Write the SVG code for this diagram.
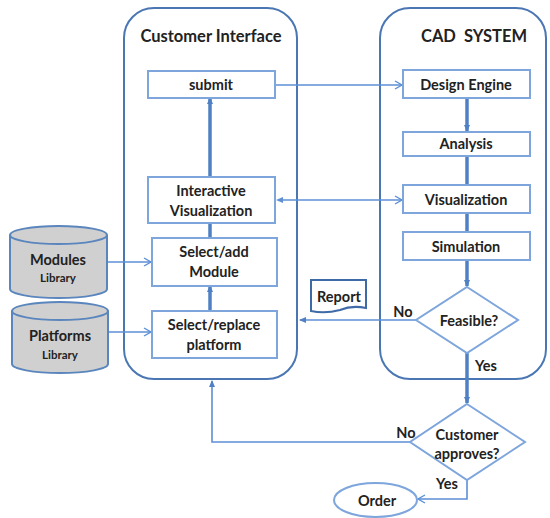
<svg xmlns="http://www.w3.org/2000/svg" width="550" height="518" viewBox="0 0 550 518">
<style>
text{font-family:Lato,"Liberation Sans",sans-serif;font-weight:bold;fill:#222;text-anchor:middle}
.t{font-size:14.5px}
.h{font-size:16.5px;white-space:pre}
.s{font-size:11.5px}
.box{fill:#fff;stroke:#7ea6dc;stroke-width:2}
.cont{fill:none;stroke:#4a77b4;stroke-width:2}
.ln{fill:none;stroke:#5c8fd6;stroke-width:1.6}
.thk{fill:none;stroke:#4f80c4;stroke-width:3.5}
.cyl{fill:#d0d0d0;stroke:#5a86bd;stroke-width:2}
</style>
<defs>
<marker id="open" markerWidth="10" markerHeight="10" refX="8" refY="5" orient="auto" markerUnits="userSpaceOnUse">
<path d="M1,1 L8,5 L1,9" fill="none" stroke="#5c8fd6" stroke-width="1.4"/>
</marker>
<marker id="fill" markerWidth="8" markerHeight="8" refX="6" refY="4" orient="auto" markerUnits="userSpaceOnUse">
<path d="M0,1 L7,4 L0,7 Z" fill="#4f80c4"/>
</marker>
</defs>

<g id="customer-interface">
<rect class="cont" x="124" y="8" width="173" height="371" rx="30"/>
<text class="h" x="211" y="42">Customer Interface</text>
</g>
<g id="cad-system">
<rect class="cont" x="380" y="8" width="166" height="371" rx="30"/>
<text class="h" x="474" y="42" xml:space="preserve">CAD  SYSTEM</text>
</g>

<g id="connectors">
<path class="thk" d="M210,238 V223 M210,177 V98" marker-end="url(#fill)"/>
<path class="thk" d="M210,311 V286" marker-end="url(#fill)"/>
<path class="ln" d="M275,85 H402" marker-end="url(#open)"/>
<path class="ln" d="M282,200 H402" marker-end="url(#open)"/>
<path d="M276,200 L283,197 L283,203 Z" fill="#5c8fd6"/>
<path class="ln" d="M107,262 H151" marker-end="url(#open)"/>
<path class="ln" d="M108,332 H151" marker-end="url(#open)"/>
<path class="thk" d="M467,98 V131" marker-end="url(#fill)"/>
<path class="thk" d="M467,156 V185"/>
<path class="thk" d="M467,213 V232"/>
<path class="thk" d="M467,260 V286" marker-end="url(#fill)"/>
<path class="ln" d="M416,320 H300" marker-end="url(#fill)"/>
<path class="thk" d="M467,353 V403" marker-end="url(#fill)"/>
<path class="ln" d="M410,442 H212 V381" marker-end="url(#fill)"/>
<path class="ln" d="M467,480 V499 H418" marker-end="url(#open)"/>
<text class="t" x="403" y="317">No</text>
<text class="t" x="486" y="371">Yes</text>
<text class="t" x="406" y="438">No</text>
<text class="t" x="447" y="489">Yes</text>
</g>

<g id="submit"><rect class="box" x="148" y="71" width="127" height="27"/><text class="t" x="211" y="90">submit</text></g>
<g id="interactive-visualization"><rect class="box" x="148" y="177" width="127" height="46"/><text class="t" x="211" y="196">Interactive</text><text class="t" x="211" y="216">Visualization</text></g>
<g id="select-add-module"><rect class="box" x="152" y="238" width="125" height="48"/><text class="t" x="214" y="257">Select/add</text><text class="t" x="214" y="277">Module</text></g>
<g id="select-replace-platform"><rect class="box" x="152" y="311" width="125" height="47"/><text class="t" x="214" y="330">Select/replace</text><text class="t" x="214" y="350">platform</text></g>

<g id="modules-library">
<path class="cyl" d="M10,235 V289 A48.5,9 0 0 0 107,289 V235"/>
<ellipse class="cyl" cx="58.5" cy="235" rx="48.5" ry="9"/>
<text class="t" x="58" y="265">Modules</text><text class="s" x="58" y="282">Library</text>
</g>
<g id="platforms-library">
<path class="cyl" d="M12,311 V364 A48,9 0 0 0 108,364 V311"/>
<ellipse class="cyl" cx="60" cy="311" rx="48" ry="9"/>
<text class="t" x="60" y="341">Platforms</text><text class="s" x="60" y="359">Library</text>
</g>

<g id="design-engine"><rect class="box" x="403" y="70" width="127" height="28"/><text class="t" x="466" y="90">Design Engine</text></g>
<g id="analysis"><rect class="box" x="403" y="132" width="127" height="24"/><text class="t" x="466" y="149">Analysis</text></g>
<g id="visualization"><rect class="box" x="403" y="185" width="127" height="28"/><text class="t" x="466" y="205">Visualization</text></g>
<g id="simulation"><rect class="box" x="403" y="232" width="127" height="28"/><text class="t" x="466" y="252">Simulation</text></g>

<g id="report">
<path d="M311,280 H366 V308 Q352,305 340,310 Q325,314 311,311 Z" fill="#fff" stroke="#3f6aa8" stroke-width="2"/>
<text class="t" x="339" y="302">Report</text>
</g>

<g id="feasible">
<polygon points="467,287 518,320 467,353 416,320" fill="#fff" stroke="#7ea6dc" stroke-width="2"/>
<text class="t" x="469" y="326">Feasible?</text>
</g>
<g id="customer-approves">
<polygon points="467,404 525,442 467,480 410,442" fill="#fff" stroke="#7ea6dc" stroke-width="2"/>
<text class="t" x="467" y="440">Customer</text><text class="t" x="467" y="459">approves?</text>
</g>
<g id="order">
<ellipse cx="375.5" cy="500" rx="41.5" ry="17" fill="#fff" stroke="#7ea6dc" stroke-width="2"/>
<text class="t" x="377" y="506">Order</text>
</g>
</svg>
